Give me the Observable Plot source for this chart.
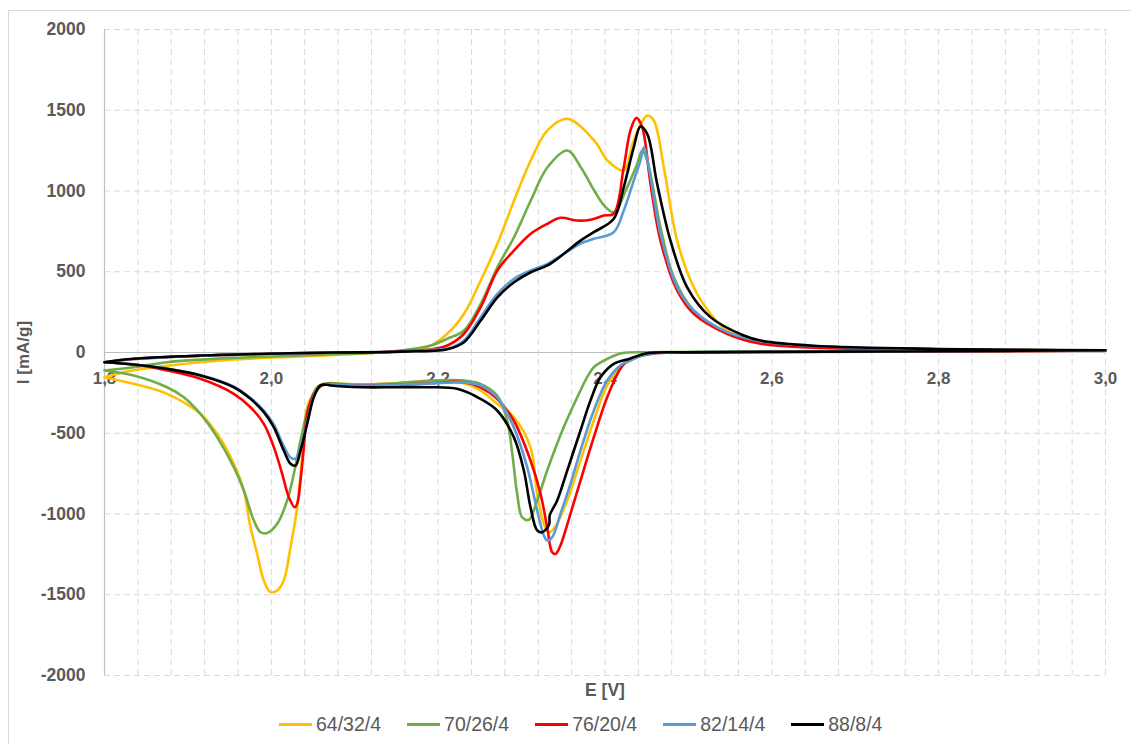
<!DOCTYPE html>
<html>
<head>
<meta charset="utf-8">
<script src="https://cdn.jsdelivr.net/npm/d3@7"></script>
<script src="https://cdn.jsdelivr.net/npm/@observablehq/plot@0.6"></script>
<style>
  html, body { margin: 0; padding: 0; background: #fff; }
  body { width: 1131px; height: 744px; position: relative; overflow: hidden; font-family: "Liberation Sans", Arial, sans-serif; }
  #frame { position: absolute; left: 8px; top: 10px; width: 1140px; height: 760px; border: 1px solid #d9d9d9; box-sizing: border-box; }
  #chart { position: absolute; left: 0; top: 0; }
  #legend { position: absolute; left: 279px; top: 712px; display: flex; font-size: 19.5px; color: #595959; line-height: 24px; }
  .item { display: flex; align-items: center; margin-right: 26px; }
  .sw { width: 33px; height: 3px; margin-right: 4px; }
</style>
</head>
<body>
<div id="frame"></div>
<div id="chart"></div>
<div id="legend"></div>
<script>
// ---- data ----
const seriesNames = ["64/32/4", "70/26/4", "76/20/4", "82/14/4", "88/8/4"];
const seriesColors = ["#FFC000", "#70AD47", "#FF0000", "#5B9BD5", "#000000"];

// 64/32/4 : anodic sweep 1.8 -> 3.0, then cathodic sweep 3.0 -> 1.8
const e64 = [1.8,1.83,1.87,1.95,2.05,2.13,2.17,2.19,2.211,2.231,2.251,2.271,2.291,2.311,2.331,2.355,2.387,2.403,2.4225,2.4345,2.4506,2.4585,2.4705,2.4865,2.5064,2.5264,2.5465,2.5864,2.65,2.8,3.0,
             3.0,2.8,2.6,2.5,2.45,2.43,2.4185,2.4026,2.3866,2.3706,2.3547,2.34,2.3327,2.3267,2.3187,2.3107,2.2906,2.2707,2.2507,2.2307,2.19,2.15,2.11,2.083,2.067,2.058,2.0509,2.043,2.0369,2.031,2.023,2.0149,2.007,1.999,1.991,1.983,1.975,1.967,1.955,1.935,1.915,1.875,1.835,1.8];
const i64 = [-153,-115,-85,-45,-22,0,18,40,116,240,446,673,941,1189,1375,1447,1313,1189,1127,1313,1467,1437,1147,693,404,240,136,64,35,20,12,
             12,8,5,2,-10,-50,-91,-204,-421,-669,-916,-1082,-1113,-1061,-875,-586,-400,-318,-235,-190,-180,-190,-198,-194,-192,-204,-250,-339,-648,-958,-1206,-1412,-1474,-1484,-1412,-1246,-1082,-854,-689,-503,-380,-256,-194,-153];

// 70/26/4
const e70 = [1.8,1.835,1.875,1.955,2.035,2.095,2.13,2.171,2.191,2.211,2.231,2.251,2.271,2.291,2.311,2.331,2.355,2.371,2.387,2.399,2.4105,2.4266,2.4386,2.4446,2.4506,2.4665,2.4825,2.5064,2.5465,2.5864,2.65,2.8,3.0,
             3.0,2.8,2.6,2.45,2.42,2.4026,2.3866,2.3786,2.3706,2.3506,2.3307,2.3187,2.3087,2.3007,2.2947,2.2887,2.2827,2.2707,2.2507,2.2307,2.1908,2.1508,2.1108,2.083,2.067,2.055,2.045,2.035,2.027,2.019,2.007,1.995,1.987,1.979,1.967,1.955,1.935,1.915,1.895,1.875,1.835,1.8];
const i70 = [-111,-91,-60,-33,-19,-8,0,23,43,85,136,301,528,714,941,1147,1251,1147,1003,910,869,1024,1168,1251,1189,776,466,260,116,64,35,20,12,
             12,8,5,2,-5,-40,-91,-153,-235,-462,-731,-916,-1036,-1020,-875,-620,-420,-266,-194,-173,-173,-190,-198,-194,-190,-215,-330,-545,-751,-916,-1061,-1118,-1113,-1040,-854,-710,-524,-380,-277,-215,-142,-111];

// 76/20/4
const e76 = [1.8,1.835,1.915,2.0,2.08,2.13,2.171,2.191,2.211,2.231,2.251,2.271,2.291,2.311,2.331,2.3466,2.3666,2.3826,2.3986,2.4105,2.4225,2.4305,2.4377,2.4446,2.4545,2.4665,2.4865,2.5064,2.5465,2.5864,2.65,2.8,3.0,
             3.0,2.8,2.6,2.5,2.46,2.43,2.4185,2.4026,2.3866,2.3706,2.3586,2.3466,2.3407,2.3367,2.3307,2.3227,2.3107,2.2906,2.2707,2.2507,2.2307,2.19,2.15,2.11,2.083,2.067,2.0589,2.0509,2.043,2.039,2.035,2.031,2.028,2.021,2.013,2.003,1.991,1.975,1.955,1.915,1.875,1.835,1.8];
const i76 = [-60,-40,-20,-8,0,3,10,18,43,116,281,508,632,735,797,834,817,822,848,859,1147,1375,1453,1395,1045,693,384,240,116,54,30,18,12,
             12,6,3,0,-5,-40,-100,-277,-524,-793,-999,-1195,-1247,-1237,-1082,-875,-669,-421,-287,-215,-184,-190,-200,-205,-200,-195,-210,-260,-380,-586,-793,-937,-958,-896,-751,-586,-442,-339,-256,-163,-111,-74,-60];

// 82/14/4
const e82 = [1.8,1.835,1.915,2.0,2.08,2.13,2.171,2.191,2.211,2.231,2.251,2.271,2.291,2.311,2.331,2.3506,2.3706,2.3866,2.4105,2.4225,2.4345,2.4425,2.4465,2.4525,2.4665,2.4865,2.5064,2.5465,2.5864,2.65,2.8,3.0,
             3.0,2.8,2.6,2.5,2.45,2.43,2.4185,2.4026,2.3866,2.3706,2.3586,2.3466,2.3367,2.3307,2.3267,2.3187,2.3067,2.2906,2.2707,2.2507,2.2307,2.19,2.15,2.11,2.083,2.067,2.0589,2.0509,2.043,2.035,2.029,2.023,2.0149,2.0029,1.991,1.975,1.955,1.915,1.875,1.835,1.8];
const i82 = [-60,-40,-20,-8,0,3,8,16,23,74,219,363,456,508,549,610,675,704,745,879,1065,1189,1271,1147,735,404,260,126,70,40,20,12,
             12,8,4,2,-10,-50,-80,-173,-359,-607,-813,-999,-1143,-1164,-1133,-978,-710,-462,-277,-204,-185,-192,-200,-205,-200,-195,-205,-270,-430,-590,-658,-650,-580,-445,-360,-282,-212,-140,-100,-74,-60];

// 88/8/4
const e88 = [1.8,1.835,1.915,1.995,2.075,2.13,2.171,2.191,2.211,2.231,2.251,2.271,2.291,2.311,2.331,2.3506,2.3706,2.3866,2.4105,2.4225,2.4345,2.4425,2.4506,2.4625,2.4785,2.4985,2.5264,2.5664,2.5864,2.65,2.8,3.0,
             3.0,2.8,2.6,2.5,2.45,2.4305,2.4105,2.3946,2.3826,2.3706,2.3547,2.3427,2.3337,2.333,2.3247,2.3187,2.3107,2.3027,2.2907,2.2707,2.2507,2.2227,2.19,2.15,2.11,2.071,2.067,2.0589,2.0509,2.043,2.035,2.029,2.023,2.0149,2.0029,1.991,1.975,1.955,1.915,1.875,1.835,1.8];
const i88 = [-60,-39,-19,-8,0,2,8,10,20,64,198,342,435,497,539,611,693,745,828,1024,1271,1399,1354,1045,693,404,219,105,74,42,22,14,
             14,8,4,1,-5,-37,-70,-153,-297,-483,-731,-916,-1009,-1065,-1113,-1102,-958,-731,-524,-359,-287,-225,-215,-215,-215,-204,-200,-204,-277,-441,-607,-700,-689,-607,-462,-369,-287,-215,-142,-101,-74,-60];

const yTicks = [-2000, -1500, -1000, -500, 0, 500, 1000, 1500, 2000];
const xTicks = [1.8, 2.0, 2.2, 2.4, 2.6, 2.8, 3.0];
const xMinorGrid = d3.range(0, 31).map(k => +(1.8 + k * 0.04).toFixed(2));

// ---- build ----
const eArrays = [e64, e70, e76, e82, e88];
const iArrays = [i64, i70, i76, i82, i88];
const series = seriesNames.map((name, s) => eArrays[s].map((e, k) => ({E: e, I: iArrays[s][k], name})));

const textColor = "#595959";
const font = "'Liberation Sans', Arial, sans-serif";

const chart = Plot.plot({
  width: 1131,
  height: 705,
  marginLeft: 104,
  marginRight: 26,
  marginTop: 29,
  marginBottom: 30,
  style: {fontFamily: font, background: "transparent", overflow: "visible"},
  x: {domain: [1.8, 3.0]},
  y: {domain: [-2000, 2000]},
  marks: [
    Plot.gridX(xMinorGrid, {stroke: "#d9d9d9", strokeOpacity: 1, strokeDasharray: "6,4"}),
    Plot.gridY(yTicks, {stroke: "#d9d9d9", strokeOpacity: 1, strokeDasharray: "6,4"}),
    Plot.ruleY([0], {stroke: "#bfbfbf", strokeWidth: 1.2}),
    Plot.ruleX([1.8], {stroke: "#bfbfbf", strokeWidth: 1.2}),
    Plot.axisY(yTicks, {tickSize: 0, tickPadding: 19, tickFormat: d => String(d), fontSize: 17.5, fontWeight: "bold", fill: textColor,
      label: "I [mA/g]", labelAnchor: "center", labelArrow: "none", labelOffset: 88}),
    Plot.axisX({ticks: [], label: null, tickSize: 0}),
    Plot.text(xTicks, {x: d => d, y: d => 0, text: d => d.toFixed(1).replace(".", ","), dy: 26, fontSize: 17, fontWeight: "bold", fill: textColor}),
    Plot.text(["E [V]"], {frameAnchor: "bottom", dy: 20, fontSize: 17.5, fontWeight: "bold", fill: textColor}),
    ...series.map((data, s) => Plot.line(data, {x: "E", y: "I", stroke: seriesColors[s], strokeWidth: 2.6, curve: "catmull-rom"}))
  ]
});
document.getElementById("chart").appendChild(chart);
chart.querySelectorAll("[aria-label='y-axis label'] text").forEach(t => {
  t.setAttribute("font-weight", "bold"); t.setAttribute("font-size", "17"); t.setAttribute("fill", textColor);
});

const legend = document.getElementById("legend");
seriesNames.forEach((n, s) => {
  const it = document.createElement("div"); it.className = "item";
  const sw = document.createElement("div"); sw.className = "sw"; sw.style.background = seriesColors[s];
  const tx = document.createElement("span"); tx.textContent = n;
  it.appendChild(sw); it.appendChild(tx); legend.appendChild(it);
});
</script>
</body>
</html>
